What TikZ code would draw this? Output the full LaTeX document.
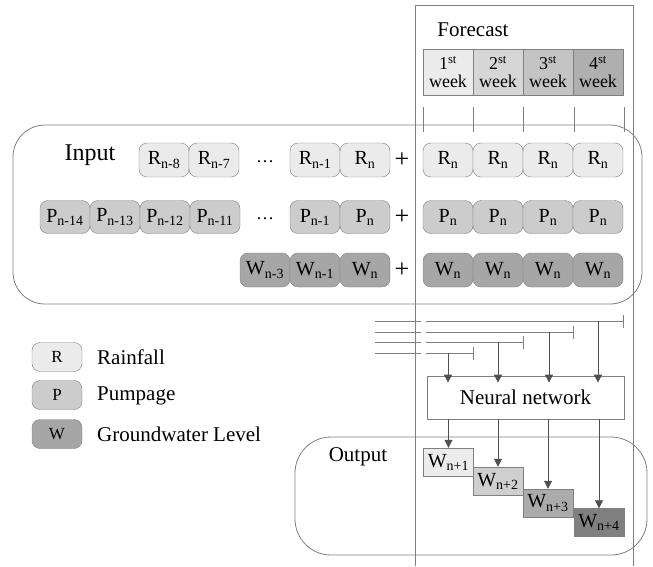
\documentclass[tikz,border=0pt]{standalone}
\usepackage{fontspec}
\setmainfont{Liberation Serif}
\usetikzlibrary{arrows.meta,calc}
\definecolor{cR}{HTML}{EBEBEB}
\definecolor{cP}{HTML}{CCCCCC}
\definecolor{cW}{HTML}{A6A6A6}
\definecolor{wkA}{HTML}{EBEBEB}
\definecolor{wkB}{HTML}{D6D6D6}
\definecolor{wkC}{HTML}{C4C4C4}
\definecolor{wkD}{HTML}{AFAFAF}
\definecolor{oA}{HTML}{ECECEC}
\definecolor{oB}{HTML}{CFCFCF}
\definecolor{oC}{HTML}{ABABAB}
\definecolor{oD}{HTML}{808080}
\definecolor{edge}{HTML}{7F7F7F}
\definecolor{arr}{HTML}{505050}
\newcommand\mysub[1]{\textsubscript{#1}}
\begin{document}
\begin{tikzpicture}[x=1pt,y=-1pt,
  cell/.style={draw=edge, rounded corners=8pt, minimum width=50pt, minimum height=34pt, inner sep=0pt, font=\fontsize{20}{24}\selectfont},
  cellR/.style={cell, fill=cR},
  cellP/.style={cell, fill=cP, minimum height=33pt},
  cellW/.style={cell, fill=cW},
  legbox/.style={draw=edge, rounded corners=8pt, minimum width=50pt, minimum height=29pt, inner sep=0pt, font=\fontsize{17}{20}\selectfont},
  legtext/.style={anchor=west, inner sep=0pt, font=\fontsize{21}{24}\selectfont},
  weekbox/.style={draw=edge, minimum width=50pt, minimum height=46pt, inner sep=0pt, align=center, font=\fontsize{18}{18}\selectfont},
  outbox/.style={draw=edge, minimum width=50pt, minimum height=28pt, inner sep=0pt, font=\fontsize{20}{24}\selectfont},
  title/.style={inner sep=0pt, font=\fontsize{21}{24}\selectfont},
  plus/.style={inner sep=0pt, font=\fontsize{26}{26}\selectfont},
  frame/.style={draw=edge, line width=0.8pt},
  feed/.style={draw=edge, line width=0.8pt},
  arrow/.style={draw=arr, line width=0.8pt, -{Triangle[width=8pt,length=8pt]}},
  endbar/.style={draw=edge, line width=0.8pt, -{Bar[width=13pt]}}
]
\useasboundingbox (0,0) rectangle (653,566);

% forecast frame
\draw[frame] (415,566) -- (415,5) -- (633,5) -- (633,566);
\node[title] (fc) at (473,30) {Forecast};
\node[weekbox, fill=wkA] (wk1) at (448,72) {1\textsuperscript{st}\\week};
\node[weekbox, fill=wkB] (wk2) at (498,72) {2\textsuperscript{st}\\week};
\node[weekbox, fill=wkC] (wk3) at (548,72) {3\textsuperscript{st}\\week};
\node[weekbox, fill=wkD] (wk4) at (598,72) {4\textsuperscript{st}\\week};
\foreach \x in {423,473,523,574,624} \draw[frame] (\x,107) -- (\x,132);

% input box
\draw[frame, rounded corners=32pt] (13,125) rectangle (642,304);
\node[inner sep=0pt, font=\fontsize{24}{28}\selectfont] (inlab) at (90,155) {Input};

% R row
\node[cellR] (r8) at (164,160) {R\mysub{n-8}};
\node[cellR] (r7) at (214,160) {R\mysub{n-7}};
\node[inner sep=0pt, font=\fontsize{18}{20}\selectfont] (rd) at (265,162) {\dots};
\node[cellR] (r1) at (315,160) {R\mysub{n-1}};
\node[cellR] (r0) at (365,160) {R\mysub{n}};
\node[plus] (rp) at (402,160) {+};
\foreach \x/\n in {448/a,498/b,548/c,598/d} \node[cellR] (rf\n) at (\x,160) {R\mysub{n}};

% P row
\node[cellP] (p14) at (65,217) {P\mysub{n-14}};
\node[cellP] (p13) at (115,217) {P\mysub{n-13}};
\node[cellP] (p12) at (165,217) {P\mysub{n-12}};
\node[cellP] (p11) at (215,217) {P\mysub{n-11}};
\node[inner sep=0pt, font=\fontsize{18}{20}\selectfont] (pd) at (265,219) {\dots};
\node[cellP] (p1) at (315,217) {P\mysub{n-1}};
\node[cellP] (p0) at (365,217) {P\mysub{n}};
\node[plus] (pp) at (402,217) {+};
\foreach \x/\n in {448/a,498/b,548/c,598/d} \node[cellP] (pf\n) at (\x,217) {P\mysub{n}};

% W row
\node[cellW] (w3) at (265,270) {W\mysub{n-3}};
\node[cellW] (w1) at (315,270) {W\mysub{n-1}};
\node[cellW] (w0) at (365,270) {W\mysub{n}};
\node[plus] (wp) at (402,270) {+};
\foreach \x/\n in {448/a,498/b,548/c,598/d} \node[cellW] (wf\n) at (\x,270) {W\mysub{n}};

% legend
\node[legbox, fill=cR] (lr) at (57,357) {R};
\node[legbox, fill=cP] (lp) at (57,395) {P};
\node[legbox, fill=cW] (lw) at (57,434) {W};
\node[legtext] (lrt) at (97,357) {Rainfall};
\node[legtext] (lpt) at (97,396) {Pumpage};
\node[legtext] (lwt) at (97,434) {Groundwater Level};

% neural network
\node[draw=edge, line width=0.8pt, fill=white, minimum width=197pt, minimum height=43pt, inner sep=0pt, font=\fontsize{21}{24}\selectfont] (nn) at (525.5,397.5) {Neural network};

% feed lines
\coordinate (s1) at (375,321); \coordinate (e1) at (624,321);
\coordinate (s2) at (375,332); \coordinate (e2) at (574,332);
\coordinate (s3) at (375,342); \coordinate (e3) at (524,342);
\coordinate (s4) at (375,353); \coordinate (e4) at (474,353);
\foreach \i in {1,2,3,4} {
  \draw[feed] (s\i) -- ($(s\i)+(46,0)$);
  \draw[endbar] ($(s\i)+(51,0)$) -- (e\i);
}
\coordinate (t1) at (598,321);
\coordinate (t2) at (549,332);
\coordinate (t3) at (498,342);
\coordinate (t4) at (448,353);
\foreach \i in {1,2,3,4} \draw[arrow, shorten >=-7pt] (t\i) -- (t\i |- nn.north);

% output
\draw[frame, rounded corners=36pt] (295,437) rectangle (647,555);
\node[title] (olab) at (358,457) {Output};
\node[outbox, fill=oA] (o1) at (448.5,462) {W\mysub{n+1}};
\node[outbox, fill=oB] (o2) at (498,481) {W\mysub{n+2}};
\node[outbox, fill=oC] (o3) at (548,503) {W\mysub{n+3}};
\node[outbox, fill=oD] (o4) at (599,522.5) {W\mysub{n+4}};
\draw[arrow] (nn.south -| o1.north) -- (o1.north);
\draw[arrow] (nn.south -| o2.north) -- (o2.north);
\draw[arrow] (nn.south -| o3.north) -- (o3.north);
\draw[arrow] (nn.south -| o4.north) -- (o4.north);
\end{tikzpicture}
\end{document}
